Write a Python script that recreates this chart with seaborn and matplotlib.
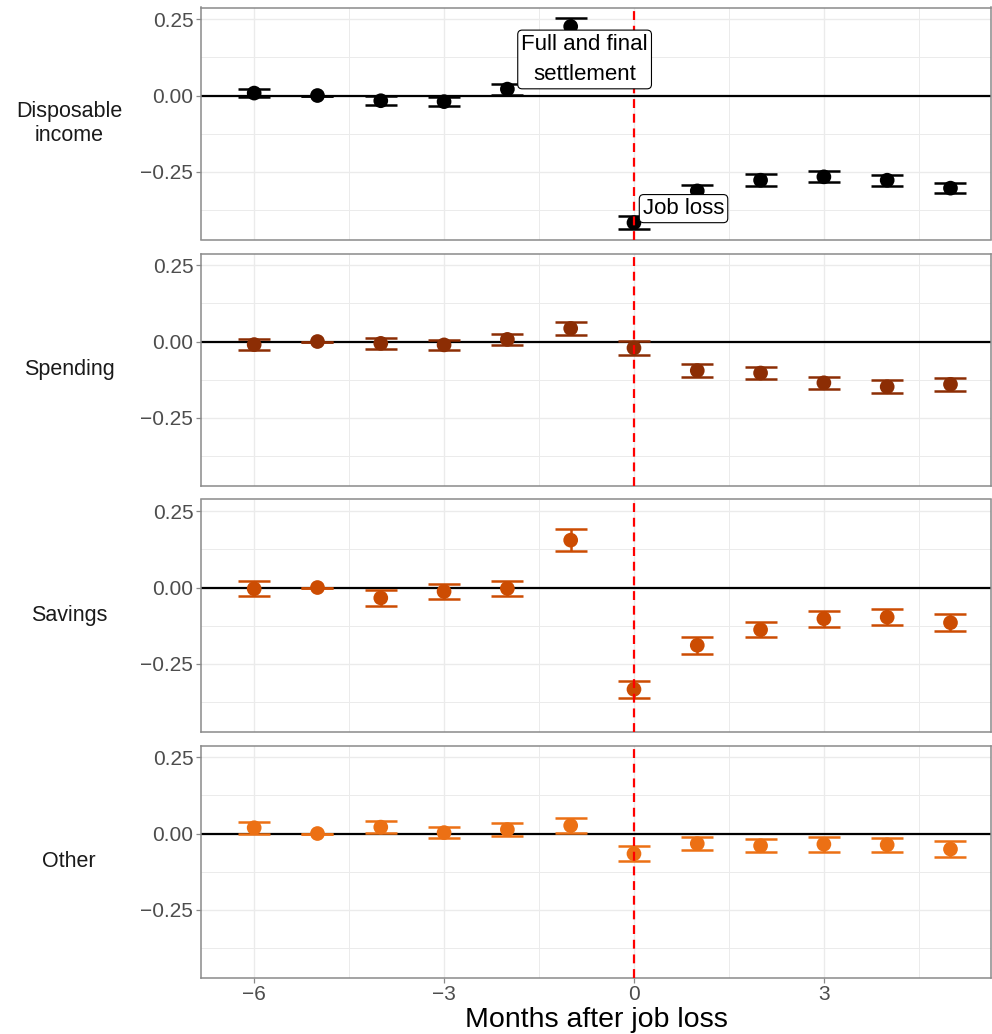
import matplotlib
matplotlib.use("Agg")
import matplotlib.pyplot as plt
from matplotlib.ticker import MultipleLocator, FuncFormatter
import numpy as np
import pandas as pd
import seaborn as sns

# Event-study estimates (relative to month -5) with 95% confidence half-widths
months = [-6, -5, -4, -3, -2, -1, 0, 1, 2, 3, 4, 5]

income_est = [0.008, 0.0, -0.017, -0.020, 0.021, 0.226, -0.416, -0.312, -0.277, -0.266, -0.277, -0.303]
income_ci = [0.013, 0.0, 0.014, 0.014, 0.018, 0.027, 0.022, 0.019, 0.019, 0.018, 0.018, 0.016]

spending_est = [-0.010, 0.0, -0.006, -0.011, 0.007, 0.043, -0.021, -0.095, -0.103, -0.135, -0.148, -0.140]
spending_ci = [0.018, 0.0, 0.017, 0.017, 0.019, 0.021, 0.022, 0.022, 0.021, 0.020, 0.021, 0.021]

savings_est = [-0.004, 0.0, -0.034, -0.013, -0.003, 0.155, -0.333, -0.189, -0.138, -0.102, -0.097, -0.115]
savings_ci = [0.024, 0.0, 0.026, 0.024, 0.024, 0.036, 0.027, 0.027, 0.025, 0.026, 0.027, 0.028]

other_est = [0.019, 0.0, 0.021, 0.003, 0.013, 0.026, -0.066, -0.033, -0.040, -0.035, -0.037, -0.051]
other_ci = [0.020, 0.0, 0.020, 0.019, 0.022, 0.025, 0.025, 0.022, 0.021, 0.024, 0.024, 0.026]

outcomes = ["Disposable\nincome", "Spending", "Savings", "Other"]
outcome_colors = ["#000000", "#8c2d04", "#cc4c02", "#ec7014"]

x_ticks = [-6, -3, 0, 3]
y_ticks = [0.25, 0.0, -0.25]

annotations = [
    {"panel": 0, "x": -0.78, "y": 0.118, "text": "Full and final\nsettlement", "ha": "center"},
    {"panel": 0, "x": 0.14, "y": -0.37, "text": "Job loss", "ha": "left"},
]

frames = []
for name, est, ci in zip(outcomes,
                         [income_est, spending_est, savings_est, other_est],
                         [income_ci, spending_ci, savings_ci, other_ci]):
    frames.append(pd.DataFrame({"outcome": name, "month": months,
                                "estimate": est, "ci": ci}))
df = pd.concat(frames, ignore_index=True)

sns.set_theme(style="white")
plt.rcParams["font.family"] = ["Liberation Sans", "DejaVu Sans"]

W, H = 992, 1034
fig = plt.figure(figsize=(W / 100, H / 100), dpi=100)

left_px, right_px = 201, 991
panel_tops = [7.5, 253.5, 499.5, 745.5]
panel_h = 232

grid_col = "#ebebeb"
border_col = "#8a8a8a"
tick_col = "#4d4d4d"

axes = []
for i, (name, color) in enumerate(zip(outcomes, outcome_colors)):
    top = panel_tops[i]
    ax = fig.add_axes([left_px / W, 1 - (top + panel_h) / H,
                       (right_px - left_px) / W, panel_h / H])
    axes.append(ax)
    sub = df[df["outcome"] == name]

    ax.set_xlim(-6.84, 5.64)
    ax.set_ylim(-0.471, 0.288)

    ax.xaxis.set_major_locator(MultipleLocator(3))
    ax.xaxis.set_minor_locator(MultipleLocator(1.5))
    ax.yaxis.set_major_locator(MultipleLocator(0.25))
    ax.yaxis.set_minor_locator(MultipleLocator(0.125))
    ax.grid(which="major", color=grid_col, linewidth=1.0, zorder=0)
    ax.grid(which="minor", color=grid_col, linewidth=0.7, zorder=0)
    ax.set_axisbelow(True)

    ax.axhline(0, color="black", linewidth=1.6, zorder=2)

    ax.errorbar(sub["month"], sub["estimate"], yerr=sub["ci"], fmt="none",
                ecolor=color, elinewidth=1.8, capsize=11.2, capthick=1.8,
                zorder=3)
    sns.scatterplot(data=sub, x="month", y="estimate", color=color, s=112,
                    edgecolor="none", linewidth=0, ax=ax, zorder=4, legend=False)

    ax.axvline(0, color="red", linewidth=1.6, linestyle=(0, (4, 2.6)), zorder=5)

    ax.set_xlabel("")
    ax.set_ylabel("")
    ax.set_yticks(y_ticks)
    ax.yaxis.set_major_formatter(FuncFormatter(lambda v, p: f"{v:.2f}".replace("-", "\u2212")))
    ax.tick_params(axis="y", which="major", left=True, length=3.5, width=0.9,
                   color=border_col, labelsize=15, labelcolor=tick_col, pad=2)
    ax.tick_params(which="minor", length=0)
    if i == len(outcomes) - 1:
        ax.set_xticks(x_ticks)
        ax.set_xticklabels([f"{t}".replace("-", "\u2212") for t in x_ticks])
        ax.tick_params(axis="x", which="major", bottom=True, length=3.5, width=0.9,
                       color=border_col, labelsize=15, labelcolor=tick_col, pad=2)
        ax.set_xlabel("Months after job loss", fontsize=20.5, color="black", labelpad=2)
    else:
        ax.tick_params(axis="x", which="major", bottom=False, labelbottom=False)

    for sp in ax.spines.values():
        sp.set_visible(True)
        sp.set_color(border_col)
        sp.set_linewidth(1.1)

    # facet label on the left
    fig.text(69 / W, 1 - (top + panel_h / 2) / H, name, ha="center", va="center",
             fontsize=15.5, color="#1a1a1a", linespacing=1.15)

for a in annotations:
    axes[a["panel"]].text(a["x"], a["y"], a["text"], ha=a["ha"], va="center",
                          fontsize=16, color="black", linespacing=1.6, zorder=6,
                          bbox=dict(boxstyle="round,pad=0.16,rounding_size=0.2",
                                    facecolor="white", edgecolor="black", linewidth=0.8))

fig.savefig("out.png", dpi=100, facecolor="white")
